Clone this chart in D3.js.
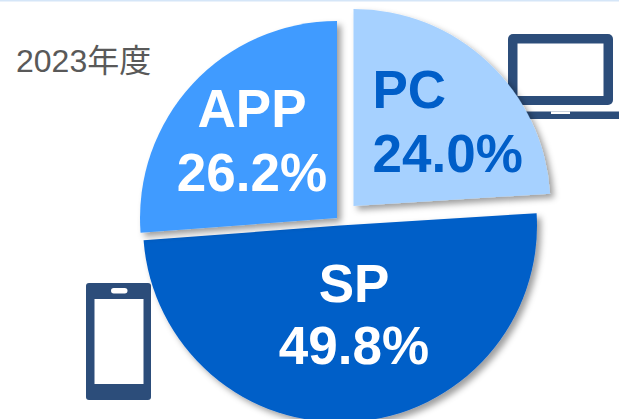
<!DOCTYPE html>
<html>
<head>
<meta charset="utf-8">
<script src="https://cdn.jsdelivr.net/npm/d3@7"></script>
<style>
html,body{margin:0;padding:0;background:#fff;overflow:hidden}
svg{display:block}
text{font-family:"Liberation Sans","Noto Sans CJK JP",sans-serif}
</style>
</head>
<body>
<svg id="c" width="619" height="419"></svg>
<script>
const categories = ["PC", "SP", "APP"];
const shares = [24.0, 49.8, 26.2];
const yearLabel = "2023年度";

const W = 619, H = 419, R = 197;
const sliceFill = {PC:"#A6D1FF", SP:"#005EC8", APP:"#3F9BFF"};
const labelFill = {PC:"#005EC8", SP:"#fff", APP:"#fff"};
const apex = {PC:[353.5,206], SP:[340,225.5], APP:[337,218]};
const labelPos = {PC:[372.5,108,172,"start"], SP:[354,302,364,"middle"], APP:[252,127,191,"middle"]};
const iconColor = "#2C4D7A";

const svg = d3.select("#c");
const defs = svg.append("defs");
const f = defs.append("filter").attr("id","sh").attr("x","-10%").attr("y","-10%").attr("width","125%").attr("height","125%");
f.append("feDropShadow").attr("dx",4).attr("dy",4).attr("stdDeviation",3)
 .attr("flood-color","#000").attr("flood-opacity",0.38);

svg.append("rect").attr("x",0).attr("y",0).attr("width",W).attr("height",1.5).attr("fill","#D5E6F8");

// laptop icon
const laptop = svg.append("g");
laptop.append("rect").attr("x",508).attr("y",34).attr("width",105).attr("height",71).attr("rx",5).attr("fill",iconColor);
laptop.append("rect").attr("x",517.5).attr("y",43.5).attr("width",86).attr("height",52.5).attr("fill","#fff");
laptop.append("rect").attr("x",495).attr("y",111.5).attr("width",124).attr("height",7.5).attr("fill",iconColor);
laptop.append("rect").attr("x",551).attr("y",111.5).attr("width",19).attr("height",2.5).attr("fill","#fff");

// phone icon
const phone = svg.append("g");
phone.append("rect").attr("x",86).attr("y",283).attr("width",65).attr("height",117).attr("rx",3).attr("fill",iconColor);
phone.append("rect").attr("x",94.5).attr("y",299).attr("width",49).attr("height",85).attr("fill","#fff");
phone.append("rect").attr("x",111).attr("y",288).attr("width",16.5).attr("height",5.5).attr("rx",2.75).attr("fill","#fff");

// pie
const rows = categories.map((c,i)=>({cat:c,value:shares[i]}));
const pie = d3.pie().value(d=>d.value).sort(null);
const arc = d3.arc().innerRadius(0).outerRadius(R);
svg.append("g").selectAll("path").data(pie(rows)).join("path")
  .attr("d",arc)
  .attr("transform",d=>`translate(${apex[d.data.cat]})`)
  .attr("fill",d=>sliceFill[d.data.cat])
  .attr("filter","url(#sh)");

// labels
rows.forEach(r=>{
  const [x,y1,y2,anchor] = labelPos[r.cat];
  const g = svg.append("g").attr("fill",labelFill[r.cat]).attr("font-weight","700").attr("font-size",53).attr("text-anchor",anchor);
  g.append("text").attr("x",x).attr("y",y1).text(r.cat);
  g.append("text").attr("x",x).attr("y",y2).text(d3.format(".1f")(r.value)+"%");
});

svg.append("text").attr("x",16).attr("y",72).attr("font-size",32).attr("fill","#595959").text(yearLabel);
</script>
</body>
</html>
